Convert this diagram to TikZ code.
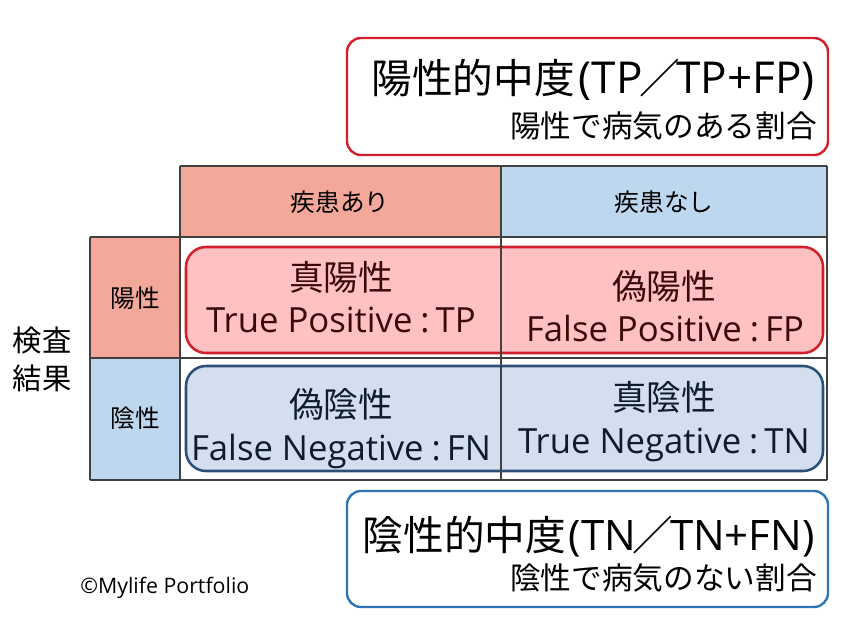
\documentclass[tikz,border=0pt]{standalone}
\usepackage{fontspec}
\setmainfont{Noto Sans CJK JP}
\newfontfamily\lat{Open Sans}
\definecolor{salmon}{HTML}{F3A899}
\definecolor{lblue}{HTML}{BDD7EE}
\definecolor{redline}{HTML}{D2202A}
\definecolor{redfill}{HTML}{FFC1C1}
\definecolor{bluefill}{HTML}{D3DEEE}
\definecolor{navyline}{HTML}{2C4E77}
\definecolor{blueline}{HTML}{2E75B6}
\definecolor{gridc}{HTML}{404040}
\definecolor{redtext}{HTML}{3A0A0A}
\definecolor{bluetext}{HTML}{0E1C2E}
\newcommand{\wslash}[1]{{\rmfamily\fontsize{30.5}{30.5}\selectfont\kern#1／\kern#1}}
\newcommand{\tcolon}{\kern6pt:\kern4.5pt}
\begin{document}
\begin{tikzpicture}[x=0.75pt,y=-0.75pt,
  cell/.style={draw=gridc,line width=0.9pt},
  pvbox/.style={rounded corners=10.5pt,line width=1.8pt,fill=white},
  cellbox/.style={rounded corners=15pt,line width=1.9pt},
  bigtxt/.style={inner sep=0pt,font=\fontsize{30.5}{30.5}\selectfont},
  subtxt/.style={inner sep=0pt,font=\fontsize{23}{23}\selectfont},
  hdtxt/.style={inner sep=0pt,font=\fontsize{18.5}{18.5}\selectfont},
  jptxt/.style={inner sep=0pt,font=\fontsize{26}{26}\selectfont},
  entxt/.style={inner sep=0pt,anchor=base,font=\lat\fontsize{26}{26}\selectfont},
  sidetxt/.style={inner sep=0pt,font=\fontsize{22}{22}\selectfont}]
\useasboundingbox (0,0) rectangle (847,625);
\fill[white] (0,0) rectangle (847,625);
% top box
\draw[pvbox,draw=redline] (347,38) rectangle (828,155);
\node[bigtxt,anchor=east] (pt) at (815,80) {陽性的中度{\lat\fontsize{33}{33}\selectfont\kern3pt(TP\wslash{-2.5pt}TP+FP)}};
\node[subtxt,anchor=east] (ps) at (817,126) {陽性で病気のある割合};
% header cells
\fill[salmon] (180,166) rectangle (501,237);
\fill[lblue] (501,166) rectangle (827,237);
\fill[salmon] (90,237) rectangle (180,358);
\fill[lblue] (90,358) rectangle (180,480);
\node[hdtxt] (h1) at (340,202) {疾患あり};
\node[hdtxt] (h2) at (664,202) {疾患なし};
\node[hdtxt] (r1) at (135,298) {陽性};
\node[hdtxt] (r2) at (135,418) {陰性};
% rounded boxes
\draw[cellbox,draw=redline,fill=redfill] (186,247) rectangle (823,353);
\draw[cellbox,draw=navyline,fill=bluefill] (186,366) rectangle (823,471);
% grid
\draw[cell] (180,166) -- (827,166);
\draw[cell] (90,237) -- (827,237);
\draw[cell] (90,358) -- (827,358);
\draw[cell] (90,480) -- (827,480);
\draw[cell] (90,237) -- (90,480);
\draw[cell] (180,166) -- (180,480);
\draw[cell] (501,166) -- (501,480);
\draw[cell] (827,166) -- (827,480);
% cell texts
\node[jptxt,text=redtext] (tp1) at (341,277) {真陽性};
\node[entxt,text=redtext] (tp2) at (341,332) {True Positive\tcolon TP};
\node[jptxt,text=redtext] (fp1) at (664,286) {偽陽性};
\node[entxt,text=redtext] (fp2) at (665,341) {False Positive\tcolon FP};
\node[jptxt,text=bluetext] (fn1) at (341,404) {偽陰性};
\node[entxt,text=bluetext] (fn2) at (341,460) {False Negative\tcolon FN};
\node[jptxt,text=bluetext] (tn1) at (664,397) {真陰性};
\node[entxt,text=bluetext] (tn2) at (664,453) {True Negative\tcolon TN};
% side label
\node[sidetxt] (k1) at (42,340) {検査};
\node[sidetxt] (k2) at (42,378) {結果};
% bottom box
\draw[pvbox,draw=blueline] (347,491) rectangle (828,607);
\node[bigtxt,anchor=east] (nt) at (815,537) {陰性的中度{\lat\fontsize{31.5}{31.5}\selectfont\kern2pt(TN\wslash{-2.5pt}TN+FN)}};
\node[subtxt,anchor=east] (ns) at (817,578) {陰性で病気のない割合};
% credit
\node[inner sep=0pt,anchor=base west,font=\lat\fontsize{16}{16}\selectfont] (cr) at (80,593) {©Mylife Portfolio};
\end{tikzpicture}
\end{document}
